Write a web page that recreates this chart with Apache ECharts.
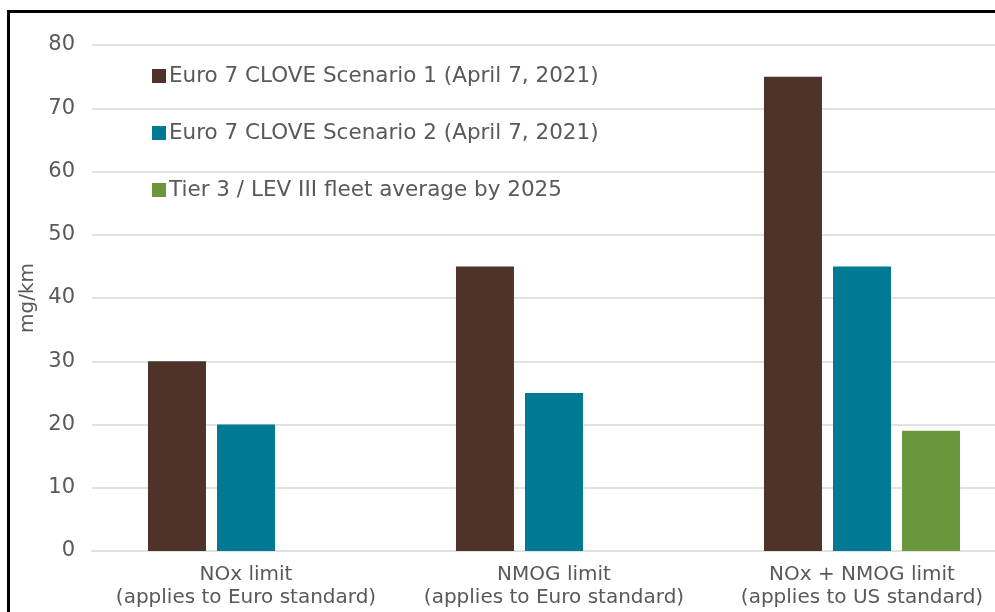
<!DOCTYPE html>
<html>
<head>
<meta charset="utf-8">
<script src="https://cdn.jsdelivr.net/npm/echarts@6/dist/echarts.min.js"></script>
<style>
html,body{margin:0;padding:0;background:#fff;overflow:hidden;width:995px;height:612px;}
#c{width:1030px;height:612px;}
</style>
</head>
<body>
<div id="c"></div>
<script>
const categories = ['NOx limit\n(applies to Euro standard)', 'NMOG limit\n(applies to Euro standard)', 'NOx + NMOG limit\n(applies to US standard)'];
const seriesNames = ['Euro 7 CLOVE Scenario 1 (April 7, 2021)', 'Euro 7 CLOVE Scenario 2 (April 7, 2021)', 'Tier 3 / LEV III fleet average by 2025'];
const scenario1 = [30, 45, 75];
const scenario2 = [20, 25, 45];
const tier3 = [null, null, 19];
const colors = ['#4E3329', '#007A94', '#6A963C'];
const font = 'DejaVu Sans';
const txt = '#595959';

const chart = echarts.init(document.getElementById('c'));
const mk = (name, data, color) => ({
  name, type: 'bar', data, barWidth: 58, barGap: '19%',
  itemStyle: { color }
});
chart.setOption({
  animation: false,
  graphic: [{
    type: 'rect', z: 100,
    shape: { x: 8.5, y: 11.5, width: 1100, height: 800 },
    style: { fill: 'none', stroke: '#000', lineWidth: 3 }
  }],
  grid: { left: 92, top: 45, width: 924, height: 506, containLabel: false },
  legend: {
    orient: 'vertical', left: 152, top: 65, padding: 0, itemWidth: 14, itemHeight: 14, itemGap: 35,
    icon: 'rect',
    textStyle: { fontFamily: font, fontSize: 21.5, lineHeight: 20, color: txt, padding: [0, 0, 0, -2] },
    data: seriesNames
  },
  xAxis: {
    type: 'category', data: categories,
    axisLine: { show: true, lineStyle: { color: '#e2e2e2', width: 2 } },
    axisTick: { show: false },
    axisLabel: { fontFamily: font, fontSize: 20, color: txt, lineHeight: 23, margin: 12, interval: 0 }
  },
  yAxis: {
    type: 'value', min: 0, max: 80, interval: 10,
    name: 'mg/km', nameLocation: 'middle', nameGap: 43, nameRotate: 90,
    nameTextStyle: { fontFamily: font, fontSize: 20, color: txt },
    axisLine: { show: false }, axisTick: { show: false },
    axisLabel: { fontFamily: font, fontSize: 21, color: txt, margin: 17 },
    splitLine: { lineStyle: { color: '#e2e2e2', width: 2 } }
  },
  series: [mk(seriesNames[0], scenario1, colors[0]), mk(seriesNames[1], scenario2, colors[1]), mk(seriesNames[2], tier3, colors[2])]
});
</script>
</body>
</html>
